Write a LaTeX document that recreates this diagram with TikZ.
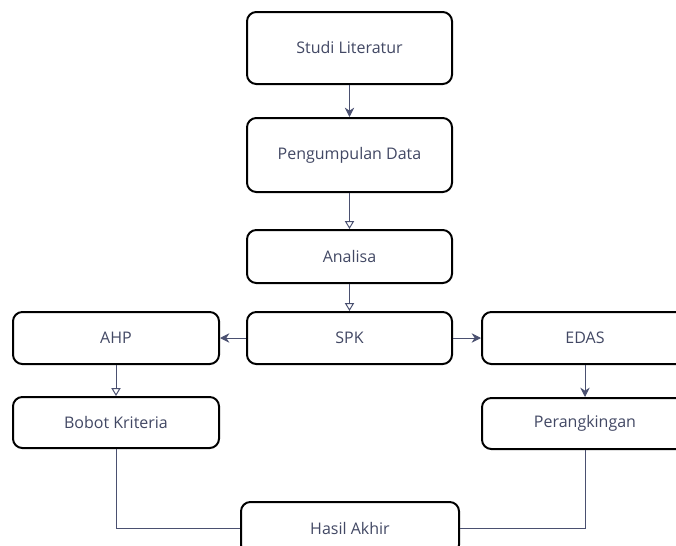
\documentclass[tikz,border=0pt]{standalone}
\usepackage{fontspec}
\setmainfont{Open Sans}
\usepackage{tikz}
\usetikzlibrary{arrows,arrows.meta,calc,shapes}
\usepackage{xcolor}
\definecolor{linegray}{RGB}{74,80,112}
\definecolor{textgray}{RGB}{66,72,100}
\tikzset{every picture/.style={line width=0.75pt}}
\tikzset{
  stepbox/.style={draw=black, line width=1.5pt, rounded corners=7pt, fill=white,
    inner sep=0pt, text=textgray, font=\fontsize{12}{14}\selectfont},
  flowfull/.style={draw=linegray, line width=0.75pt, -{Stealth[length=7pt,width=7pt]}},
  flowopen/.style={draw=linegray, line width=0.75pt, -{Triangle[open,length=6pt,width=7pt]}},
  flowline/.style={draw=linegray, line width=0.75pt}
}

\begin{document}
\begin{tikzpicture}[x=0.75pt,y=0.75pt,yscale=-1,xscale=1]
\useasboundingbox (0,0) rectangle (676,546);
% Boxes
\node [stepbox, minimum width=153.75pt, minimum height=54pt] (studi) at (349.5,48) {Studi Literatur};
\node [stepbox, minimum width=153.75pt, minimum height=55.5pt] (data) at (349.5,155) {Pengumpulan Data};
\node [stepbox, minimum width=153.75pt, minimum height=39.75pt] (analisa) at (349.5,256.5) {Analisa};
\node [stepbox, minimum width=153.75pt, minimum height=39pt] (spk) at (349.5,338) {SPK};
\node [stepbox, minimum width=154.5pt, minimum height=39pt] (ahp) at (116,338) {AHP};
\node [stepbox, minimum width=154.5pt, minimum height=38.25pt] (bobot) at (116,422.5) {Bobot Kriteria};
\node [stepbox, minimum width=154.5pt, minimum height=39pt] (edas) at (585,338) {EDAS};
\node [stepbox, minimum width=154.5pt, minimum height=38.25pt] (rank) at (585,423.5) {Perangkingan};
\node [stepbox, minimum width=163.5pt, minimum height=39pt] (hasil) at (350,528) {Hasil Akhir};
% Connectors
\draw [flowfull] (studi) -- (data);
\draw [flowopen] (data) -- (analisa);
\draw [flowopen] (analisa) -- (spk);
\draw [flowfull] (spk) -- (ahp);
\draw [flowfull] (spk) -- (edas);
\draw [flowopen] (ahp) -- (bobot);
\draw [flowfull] (edas) -- (rank);
\draw [flowline] (bobot.south) |- (hasil.west);
\draw [flowline] (rank.south) |- (hasil.east);
\end{tikzpicture}
\end{document}
